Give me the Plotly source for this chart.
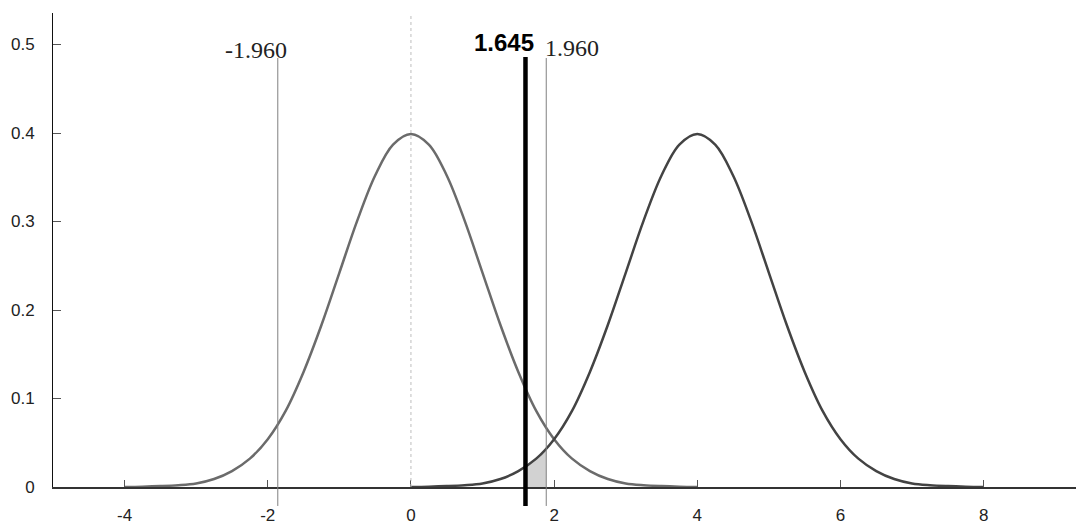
import plotly.graph_objects as go

# density, H0 curve centred at 0 and H1 curve centred at 4
h0_x = [-4, -3.75, -3.5, -3.25, -3, -2.75, -2.5, -2.25, -2, -1.75, -1.5, -1.25, -1, -0.75, -0.5, -0.25,
        0, 0.25, 0.5, 0.75, 1, 1.25, 1.5, 1.75, 2, 2.25, 2.5, 2.75, 3, 3.25, 3.5, 3.75, 4]
h0_y = [0.0001, 0.0004, 0.001, 0.002, 0.004, 0.009, 0.018, 0.032, 0.054, 0.086, 0.130, 0.183, 0.242, 0.301, 0.352, 0.387,
        0.399, 0.387, 0.352, 0.301, 0.242, 0.183, 0.130, 0.086, 0.054, 0.032, 0.018, 0.009, 0.004, 0.002, 0.001, 0.0004, 0.0001]

h1_x = [0, 0.25, 0.5, 0.75, 1, 1.25, 1.5, 1.75, 2, 2.25, 2.5, 2.75, 3, 3.25, 3.5, 3.75,
        4, 4.25, 4.5, 4.75, 5, 5.25, 5.5, 5.75, 6, 6.25, 6.5, 6.75, 7, 7.25, 7.5, 7.75, 8]
h1_y = [0.0001, 0.0004, 0.001, 0.002, 0.004, 0.009, 0.018, 0.032, 0.054, 0.086, 0.130, 0.183, 0.242, 0.301, 0.352, 0.387,
        0.399, 0.387, 0.352, 0.301, 0.242, 0.183, 0.130, 0.086, 0.054, 0.032, 0.018, 0.009, 0.004, 0.002, 0.001, 0.0004, 0.0001]

# shaded piece under H1 between the two right-hand cut lines
shade_x = [1.60, 1.75, 1.89]
shade_y = [0.025, 0.032, 0.043]

# cut lines (as drawn) and their labels
crit_left = -1.86
crit_right = 1.89
crit_one = 1.60
labels = ['-1.960', '1.960', '1.645']

xticks = [-4, -2, 0, 2, 4, 6, 8]
xticktext = ['-4', '-2', '0', '2', '4', '6', '8']
yticks = [0, 0.1, 0.2, 0.3, 0.4, 0.5]
yticktext = ['0', '0.1', '0.2', '0.3', '0.4', '0.5']

fig = go.Figure()

fig.add_trace(go.Scatter(x=shade_x, y=shade_y, mode='lines', fill='tozeroy',
                         fillcolor='#d2d2d2', line=dict(width=0), hoverinfo='skip'))
fig.add_trace(go.Scatter(x=h0_x, y=h0_y, mode='lines', line=dict(color='#6b6b6b', width=2.5, shape='spline')))
fig.add_trace(go.Scatter(x=h1_x, y=h1_y, mode='lines', line=dict(color='#434343', width=2.5, shape='spline')))

# dotted centre line
fig.add_shape(type='line', xref='x', yref='paper', x0=0, x1=0, y0=0, y1=1,
              line=dict(color='#bdbdbd', width=1, dash='dot'))
# thin two-sided lines
for xc in [crit_left, crit_right]:
    fig.add_shape(type='line', xref='x', yref='paper', x0=xc, x1=xc, y0=-0.04, y1=0.905,
                  line=dict(color='#808080', width=1))
# thick one-sided line
fig.add_shape(type='line', xref='x', yref='paper', x0=crit_one, x1=crit_one, y0=-0.04, y1=0.907,
              line=dict(color='black', width=4.5))

serif = dict(family='Liberation Serif', size=24, color='#222222')
fig.add_annotation(x=-2.16, y=0.922, xref='x', yref='paper', text=labels[0], showarrow=False,
                   font=serif, yanchor='middle')
fig.add_annotation(x=2.255, y=0.927, xref='x', yref='paper', text=labels[1], showarrow=False,
                   font=serif, yanchor='middle')
fig.add_annotation(x=1.305, y=0.938, xref='x', yref='paper', text='<b>' + labels[2] + '</b>', showarrow=False,
                   font=dict(family='Liberation Sans', size=24, color='black'), yanchor='middle')

fig.update_layout(
    width=1076, height=525,
    margin=dict(l=53, r=0, t=13, b=38, autoexpand=False),
    paper_bgcolor='white', plot_bgcolor='white',
    showlegend=False,
    font=dict(family='Liberation Sans', size=17, color='#222222'),
    xaxis=dict(range=[-5.0, 9.29], showgrid=False, zeroline=False, automargin=False,
               showline=True, linecolor='#333333', linewidth=2,
               ticks='inside', ticklen=7, tickcolor='#555555', tickwidth=1,
               tickvals=xticks, ticktext=xticktext, ticklabelstandoff=12),
    yaxis=dict(range=[0, 0.5356], showgrid=False, zeroline=False, automargin=False,
               showline=True, linecolor='#111111', linewidth=1,
               ticks='inside', ticklen=8, tickcolor='#555555', tickwidth=1,
               tickvals=yticks, ticktext=yticktext, ticklabelstandoff=14),
)

# page body has a default 8px margin; drop it so the figure fills the window
fig.write_html("out.html", config={'displayModeBar': False},
               post_script="document.body.style.margin='0';")
